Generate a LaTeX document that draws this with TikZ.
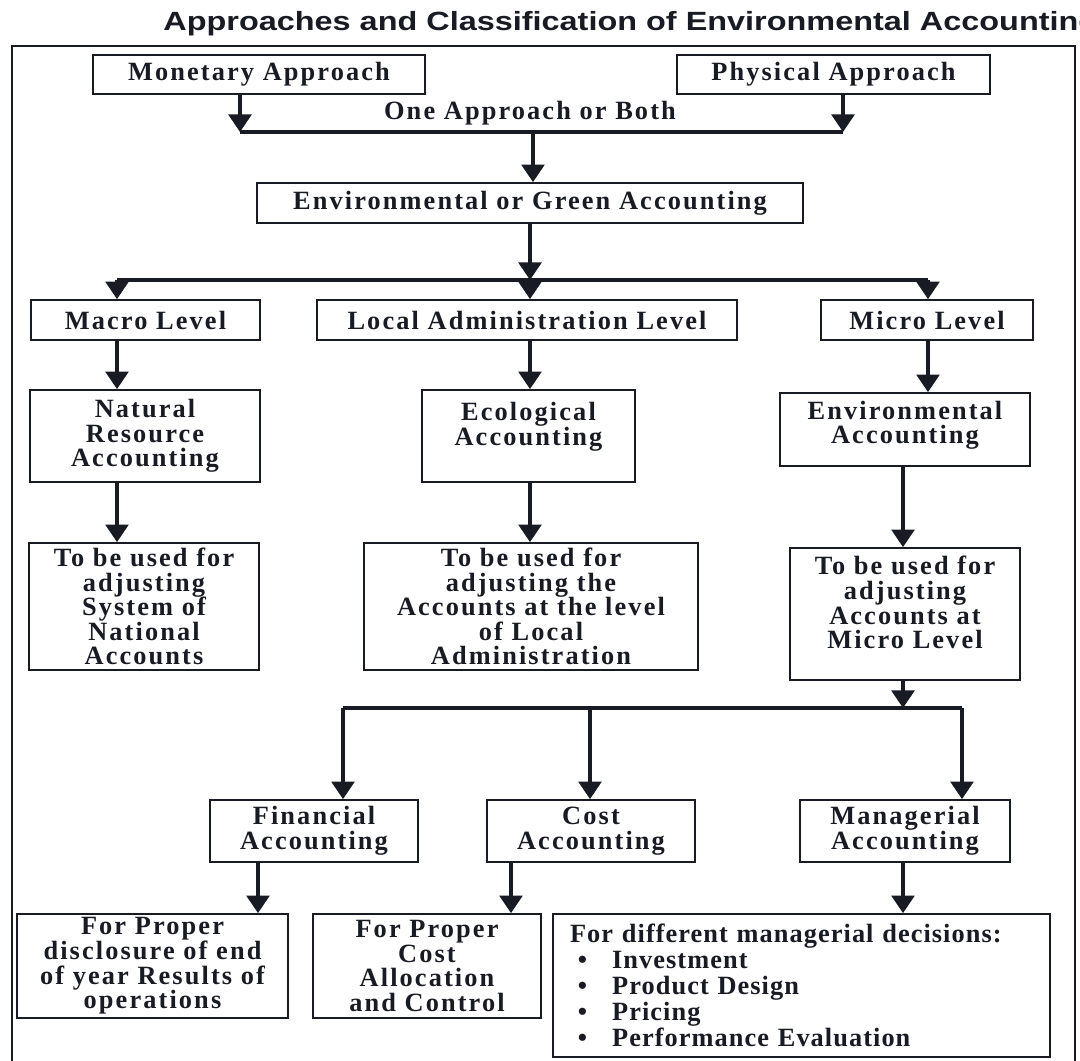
\documentclass[tikz,border=0pt]{standalone}
\usepackage{fontspec}
\setmainfont{Liberation Serif}
\newfontfamily\boxfont{Liberation Serif}[LetterSpace=8]
\newfontfamily\listfont{Liberation Serif}[LetterSpace=4]
\newfontfamily\titlefont{Liberation Sans}
\usetikzlibrary{arrows.meta}

\begin{document}
\begin{tikzpicture}[x=0.02cm, y=-0.02cm,
    box/.style={draw=inkc, line width=1pt, inner sep=0pt, align=center, text=inkc,
      font=\boxfont\bfseries\fontsize{15}{14}\selectfont},
    arr/.style={draw=inkc, line width=1.9pt, -{Triangle[width=13pt,length=10pt]}},
    bar/.style={draw=inkc, line width=1.9pt}]
    \definecolor{inkc}{RGB}{24,26,36}

    \useasboundingbox (0,0) rectangle (1080,1061);
    \clip (0,0) rectangle (1080,1061);

    \node[anchor=west, inner sep=0pt, text=inkc, xscale=1.23,
      font=\titlefont\bfseries\fontsize{15}{18}\selectfont] (title) at (163,24)
      {Approaches and Classification of Environmental Accounting};
    \draw[line width=1.4pt, color=inkc] (12,46) rectangle (1075,1100);

    % approaches
    \node[box, minimum width=6.64cm, minimum height=0.78cm] (mon) at (259,74.5) {Monetary Approach};
    \node[box, minimum width=6.26cm, minimum height=0.78cm] (phys) at (833.5,74.5) {Physical Approach};
    \node[box, draw=none] (both) at (530,113) {One Approach or Both};
    \node[box, minimum width=10.92cm, minimum height=0.8cm] (green) at (530,203) {Environmental or Green Accounting};

    % levels
    \node[box, minimum width=4.58cm, minimum height=0.8cm] (macro) at (145.5,320) {Macro Level};
    \node[box, minimum width=8.4cm, minimum height=0.8cm] (local) at (527,320) {Local Administration Level};
    \node[box, minimum width=4.24cm, minimum height=0.8cm] (micro) at (927,320) {Micro Level};

    \node[box, minimum width=4.6cm, minimum height=1.84cm] (nra) at (145,436) {Natural\\Resource\\Accounting};
    \node[box, minimum width=4.26cm, minimum height=1.84cm] (eco) at (528.5,436) {Ecological\\Accounting\\\mbox{}};
    \node[box, minimum width=5cm, minimum height=1.46cm] (envacc) at (905,429.5) {Environmental\\Accounting\\[-6pt]\mbox{}};

    \node[box, minimum width=4.6cm, minimum height=2.54cm] (useA) at (144,606.5)
      {To be used for\\adjusting\\System of\\National\\Accounts};
    \node[box, minimum width=6.68cm, minimum height=2.54cm] (useB) at (531,606.5)
      {To be used for\\adjusting the\\Accounts at the level\\of Local\\Administration};
    \node[box, minimum width=4.6cm, minimum height=2.64cm] (useC) at (905,614)
      {To be used for\\adjusting\\Accounts at\\Micro Level\\[-1pt]\mbox{}};

    % micro branches
    \node[box, minimum width=4.16cm, minimum height=1.24cm] (fin) at (314,831) {Financial\\Accounting};
    \node[box, minimum width=4.16cm, minimum height=1.24cm] (cost) at (591,831) {Cost\\Accounting};
    \node[box, minimum width=4.2cm, minimum height=1.24cm] (mgr) at (905,831) {Managerial\\Accounting};

    \node[box, minimum width=5.42cm, minimum height=2.08cm] (forA) at (152.5,966)
      {For Proper\\disclosure of end\\of year Results of\\operations};
    \node[box, minimum width=4.56cm, minimum height=2.08cm] (forB) at (427,966)
      {For Proper\\Cost\\Allocation\\and Control};
    \node[box, align=left, text width=9.26cm, minimum width=9.94cm, minimum height=2.86cm,
      font=\listfont\bfseries\fontsize{15}{14.7}\selectfont] (forC) at (801.5,985.5)
      {For different managerial decisions:\\
       \makebox[1.6em][l]{\hspace{0.3em}\textbullet}Investment\\
       \makebox[1.6em][l]{\hspace{0.3em}\textbullet}Product Design\\
       \makebox[1.6em][l]{\hspace{0.3em}\textbullet}Pricing\\
       \makebox[1.6em][l]{\hspace{0.3em}\textbullet}Performance Evaluation};

    % junctions
    \coordinate (jmon) at (240,132);
    \coordinate (jphys) at (843,132);
    \coordinate (jtop) at (533,132);
    \coordinate (jmacro) at (117,280);
    \coordinate (jmid) at (530,280);
    \coordinate (jmicro) at (928,280);
    \coordinate (jlow) at (903,708);
    \coordinate (jfin) at (343,708);
    \coordinate (jcost) at (590,708);
    \coordinate (jmgr) at (962,708);
    \coordinate (kfin) at (258,0);
    \coordinate (kcost) at (511,0);

    \draw[arr] (mon.south -| jmon) -- (jmon);
    \draw[arr] (phys.south -| jphys) -- (jphys);
    \draw[bar] (jmon) -- (jphys);
    \draw[arr] (jtop) -- (green.north -| jtop);

    \draw[arr] (green.south -| jmid) -- (jmid);
    \draw[bar] (jmacro) -- (jmicro);
    \draw[arr] (jmacro) -- (macro.north -| jmacro);
    \draw[arr] (jmid) -- (local.north -| jmid);
    \draw[arr] (jmicro) -- (micro.north -| jmicro);

    \draw[arr] (macro.south -| jmacro) -- (nra.north -| jmacro);
    \draw[arr] (nra.south -| jmacro) -- (useA.north -| jmacro);
    \draw[arr] (local.south -| jmid) -- (eco.north -| jmid);
    \draw[arr] (eco.south -| jmid) -- (useB.north -| jmid);
    \draw[arr] (micro.south -| jmicro) -- (envacc.north -| jmicro);
    \draw[arr] (envacc.south -| jlow) -- (useC.north -| jlow);
    \draw[arr] (useC.south -| jlow) -- (jlow);

    \draw[bar] (jfin) -- (jmgr);
    \draw[arr] (jfin) -- (fin.north -| jfin);
    \draw[arr] (jcost) -- (cost.north -| jcost);
    \draw[arr] (jmgr) -- (mgr.north -| jmgr);

    \draw[arr] (fin.south -| kfin) -- (forA.north -| kfin);
    \draw[arr] (cost.south -| kcost) -- (forB.north -| kcost);
    \draw[arr] (mgr.south -| jlow) -- (forC.north -| jlow);
\end{tikzpicture}
\end{document}
